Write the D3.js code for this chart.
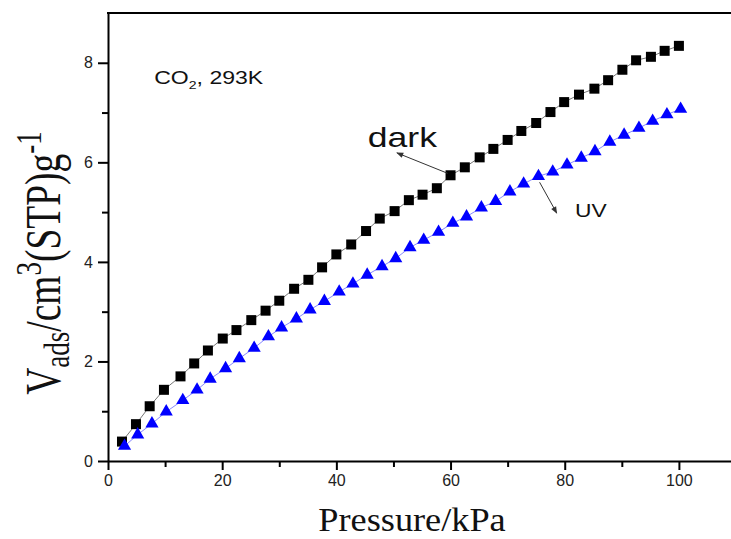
<!DOCTYPE html>
<html>
<head>
<meta charset="utf-8">
<script src="https://cdn.jsdelivr.net/npm/d3@7"></script>
<style>
  body { margin: 0; background: #fff; }
  svg { display: block; }
  .tick text { font-family: "Liberation Sans", Arial, sans-serif; font-size: 16px; fill: #222; }
</style>
</head>
<body>
<svg width="731" height="539"></svg>
<script>
// pressure (kPa) and adsorbed volume for the two runs
var darkP = [2.45, 4.9, 7.3, 9.8, 12.7, 15.1, 17.5, 20.1, 22.5, 25.1, 27.6, 30.0, 32.6, 35.1, 37.5, 40.0,
  42.6, 45.2, 47.6, 50.2, 52.7, 55.1, 57.6, 60.0, 62.5, 65.1, 67.5, 70.0, 72.4, 75.0, 77.5, 79.9,
  82.5, 85.2, 87.6, 90.1, 92.5, 95.1, 97.5, 100.0];
var darkV = [0.39, 0.74, 1.10, 1.43, 1.70, 1.96, 2.22, 2.46, 2.63, 2.83, 3.02, 3.22, 3.46, 3.64, 3.89, 4.15,
  4.35, 4.62, 4.87, 5.02, 5.24, 5.35, 5.48, 5.74, 5.90, 6.10, 6.27, 6.45, 6.63, 6.79, 7.01, 7.21,
  7.36, 7.48, 7.65, 7.86, 8.05, 8.12, 8.24, 8.34];
var uvP = [2.9, 5.2, 7.7, 10.2, 13.1, 15.6, 17.9, 20.6, 23.0, 25.6, 28.1, 30.4, 33.0, 35.4, 37.9, 40.5,
  42.9, 45.4, 48.0, 50.4, 52.9, 55.3, 57.9, 60.4, 62.8, 65.4, 67.9, 70.4, 72.8, 75.4, 77.9, 80.4,
  82.9, 85.3, 87.9, 90.4, 93.0, 95.4, 97.9, 100.3];
var uvV = [0.30, 0.53, 0.75, 0.99, 1.22, 1.43, 1.65, 1.86, 2.06, 2.27, 2.50, 2.68, 2.86, 3.04, 3.21, 3.40,
  3.56, 3.74, 3.91, 4.07, 4.29, 4.44, 4.60, 4.78, 4.91, 5.09, 5.22, 5.41, 5.57, 5.72, 5.81, 5.95,
  6.09, 6.22, 6.41, 6.55, 6.69, 6.83, 6.96, 7.07];

var xMajor = [0, 20, 40, 60, 80, 100],
    xMinor = [10, 30, 50, 70, 90],
    yMajor = [0, 2, 4, 6, 8],
    yMinor = [1, 3, 5, 7];

var svg = d3.select("svg"),
    margin = {top: 13, left: 108, bottom: 78},
    height = +svg.attr("height");

var x = d3.scaleLinear().domain([0, 110]).range([margin.left, margin.left + 628]),
    y = d3.scaleLinear().domain([0, 9]).range([height - margin.bottom, margin.top]);

var darkData = darkP.map(function(p, i) { return {p: p, v: darkV[i]}; }),
    uvData = uvP.map(function(p, i) { return {p: p, v: uvV[i]}; });

// axes
var bottom = y(0), left = x(0);

svg.append("g")
  .attr("transform", "translate(0," + bottom + ")")
  .call(d3.axisBottom(x).tickValues(xMinor).tickSize(6).tickFormat(""))
  .call(function(g) { g.select(".domain").remove(); g.selectAll("line").attr("stroke-width", 2); });

svg.append("g")
  .attr("transform", "translate(0," + bottom + ")")
  .call(d3.axisBottom(x).tickValues(xMajor).tickSize(9).tickPadding(5).tickSizeOuter(0))
  .call(function(g) {
    g.select(".domain").attr("stroke-width", 2);
    g.selectAll("line").attr("stroke-width", 2);
  });

svg.append("g")
  .attr("transform", "translate(" + left + ",0)")
  .call(d3.axisLeft(y).tickValues(yMinor).tickSize(6).tickFormat(""))
  .call(function(g) { g.select(".domain").remove(); g.selectAll("line").attr("stroke-width", 2); });

svg.append("g")
  .attr("transform", "translate(" + left + ",0)")
  .call(d3.axisLeft(y).tickValues(yMajor).tickSize(10).tickPadding(5).tickSizeOuter(0))
  .call(function(g) {
    g.select(".domain").attr("stroke-width", 2);
    g.selectAll("line").attr("stroke-width", 2);
  });

// top frame line
svg.append("line")
  .attr("x1", left - 1).attr("x2", x(110))
  .attr("y1", y(9)).attr("y2", y(9))
  .attr("stroke", "#000").attr("stroke-width", 2);

// series lines
var line = d3.line().x(function(d) { return x(d.p); }).y(function(d) { return y(d.v); });

svg.append("path").datum(darkData)
  .attr("d", line).attr("fill", "none").attr("stroke", "#777").attr("stroke-width", 1);
svg.append("path").datum(uvData)
  .attr("d", line).attr("fill", "none").attr("stroke", "#8888ff").attr("stroke-width", 1);

// markers
svg.selectAll(".sq").data(darkData).enter().append("rect")
  .attr("class", "sq")
  .attr("x", function(d) { return x(d.p) - 5; })
  .attr("y", function(d) { return y(d.v) - 5; })
  .attr("width", 10).attr("height", 10)
  .attr("fill", "#000");

svg.selectAll(".tri").data(uvData).enter().append("path")
  .attr("class", "tri")
  .attr("d", d3.symbol(d3.symbolTriangle).size(75))
  .attr("transform", function(d) { return "translate(" + x(d.p) + "," + y(d.v) + ")"; })
  .attr("fill", "#0000ff");

// annotations
svg.append("defs").append("marker")
  .attr("id", "head").attr("viewBox", "0 0 10 10")
  .attr("refX", 9).attr("refY", 5)
  .attr("markerWidth", 9).attr("markerHeight", 7)
  .attr("orient", "auto")
  .append("path").attr("d", "M0,1L10,5L0,9z").attr("fill", "#333");

svg.append("line")
  .attr("x1", x(60.0) - 3).attr("y1", y(5.74) - 2)
  .attr("x2", x(50.6)).attr("y2", y(6.19))
  .attr("stroke", "#333").attr("stroke-width", 1)
  .attr("marker-end", "url(#head)");

svg.append("line")
  .attr("x1", x(75.6)).attr("y1", y(5.6))
  .attr("x2", x(78.6)).attr("y2", y(4.98))
  .attr("stroke", "#333").attr("stroke-width", 1)
  .attr("marker-end", "url(#head)");

var sans = "'Liberation Sans', Arial, sans-serif",
    serif = "'Liberation Serif', 'Times New Roman', serif";

// the original labels are drawn a bit wide, hence the x stretch
function label(px, py, sx) {
  return svg.append("g")
    .attr("transform", "translate(" + px + "," + py + ") scale(" + sx + ",1)")
    .append("text").attr("fill", "#111");
}

var co2 = label(x(8.1), y(7.58), 1.28)
  .attr("font-family", sans).attr("font-size", 18);
co2.append("tspan").text("CO");
co2.append("tspan").attr("font-size", 11).attr("dy", 5).text("2");
co2.append("tspan").attr("dy", -5).text(", 293K");

label(x(45.5), y(6.31), 1.27)
  .attr("font-family", sans).attr("font-size", 28)
  .text("dark");

label(x(81.8), y(4.9), 1.2)
  .attr("font-family", sans).attr("font-size", 19)
  .text("UV");

// axis titles
label(412, 531, 1.1)
  .attr("text-anchor", "middle")
  .attr("font-family", serif).attr("font-size", 33)
  .text("Pressure/kPa");

var yt = svg.append("g")
  .attr("transform", "translate(60,263) scale(1.35,1) rotate(-90)")
  .append("text")
  .attr("text-anchor", "middle")
  .attr("font-family", serif).attr("font-size", 37.5).attr("fill", "#111");
yt.append("tspan").text("V");
yt.append("tspan").attr("font-size", 27).attr("dy", 7).text("ads");
yt.append("tspan").attr("dy", -7).text("/cm");
yt.append("tspan").attr("font-size", 27).attr("dy", -14).text("3");
yt.append("tspan").attr("dy", 14).text("(STP)g");
yt.append("tspan").attr("font-size", 27).attr("dy", -14).text("-1");
</script>
</body>
</html>
